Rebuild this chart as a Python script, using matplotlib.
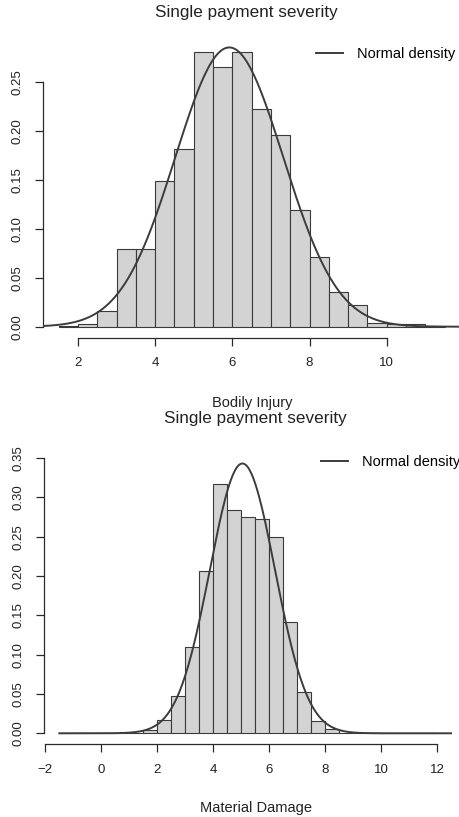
import numpy as np
import matplotlib
matplotlib.use('Agg')
import matplotlib.pyplot as plt

plt.rcParams['font.family'] = ['Liberation Sans', 'DejaVu Sans']

# Bodily injury: density histogram, bins of width 0.5 starting at 1.5
bi_start = 1.5
bi_width = 0.5
bi_dens = [0.001, 0.0024, 0.0163, 0.079, 0.079, 0.1487, 0.181, 0.280, 0.265, 0.280,
           0.2218, 0.196, 0.1188, 0.0708, 0.0357, 0.0221, 0.0038, 0.0024, 0.0024, 0.001]
bi_mean, bi_sd = 5.92, 1.40

# Material damage: bins of width 0.5 from -1.5 to 12
md_start = -1.5
md_width = 0.5
md_dens = [0, 0, 0, 0, 0.0002, 0.0008, 0.0046, 0.0165, 0.0478, 0.1093, 0.2063,
           0.3165, 0.2843, 0.2746, 0.2728, 0.2499, 0.1411, 0.0525, 0.0153, 0.0051,
           0.001, 0.0005, 0.0002, 0, 0, 0, 0]
md_mean, md_sd = 5.04, 1.163

W, H = 459, 817
fig = plt.figure(figsize=(W / 100, H / 100), dpi=100)

bar_fill = '#d3d3d3'
bar_edge = '#3a3a3a'
line_col = '#3c3c3c'
axis_col = '#2a2a2a'


def dnorm(x, m, s):
    return np.exp(-0.5 * ((x - m) / s) ** 2) / (s * np.sqrt(2 * np.pi))


def r_style(ax, xb, yb, yticks):
    for s in ['top', 'right']:
        ax.spines[s].set_visible(False)
    ax.spines['bottom'].set_bounds(*xb)
    ax.spines['left'].set_bounds(*yb)
    for s in ['bottom', 'left']:
        ax.spines[s].set_color(axis_col)
        ax.spines[s].set_linewidth(0.9)
    ax.set_yticks(yticks)
    ax.set_yticklabels(['%.2f' % v for v in yticks])
    ax.tick_params(axis='both', length=6, width=0.9, color=axis_col,
                   labelsize=9.5, labelcolor='#222222', pad=8)
    for lab in ax.get_yticklabels():
        lab.set_rotation(90)
        lab.set_va('center')


def panel(rect, start, width, dens, mean, sd, xlim, ylim, curve_from, xb, yb, yticks, xticks):
    ax = fig.add_axes(rect)
    edges = start + width * np.arange(len(dens))
    ax.bar(edges, dens, width=width, align='edge', color=bar_fill,
           edgecolor=bar_edge, linewidth=0.8, zorder=2)
    xs = np.linspace(curve_from, xlim[1], 400)
    ax.plot(xs, dnorm(xs, mean, sd), color=line_col, lw=1.4, zorder=3,
            label='Normal density')
    ax.set_xlim(*xlim)
    ax.set_ylim(*ylim)
    ax.set_xticks(xticks)
    r_style(ax, xb, yb, yticks)
    return ax


ax1 = panel([43.3 / W, 1 - 337.7 / H, (460 - 43.3) / W, (337.7 - 41.3) / H],
            bi_start, bi_width, bi_dens, bi_mean, bi_sd,
            (1.1, 11.9), (-0.0112, 0.2912), 1.1, (2, 10), (0, 0.25),
            [0, 0.05, 0.10, 0.15, 0.20, 0.25], [2, 4, 6, 8, 10])
ax1.legend(loc='center left', bbox_to_anchor=(316 / W, 1 - 54 / H),
           bbox_transform=fig.transFigure, frameon=False, fontsize=10.5,
           borderpad=0, borderaxespad=0, handlelength=1.85, handletextpad=0.95)

ax2 = panel([44.2 / W, 1 - 744.3 / H, (452.4 - 44.2) / W, (744.3 - 447) / H],
            md_start, md_width, md_dens, md_mean, md_sd,
            (-2.04, 12.54), (-0.014, 0.364), -1.5, (-2, 12), (0, 0.35),
            [0, 0.05, 0.10, 0.15, 0.20, 0.25, 0.30, 0.35],
            [-2, 0, 2, 4, 6, 8, 10, 12])
ax2.legend(loc='center left', bbox_to_anchor=(321 / W, 1 - 462 / H),
           bbox_transform=fig.transFigure, frameon=False, fontsize=10.5,
           borderpad=0, borderaxespad=0, handlelength=1.85, handletextpad=0.95)

fig.text(246 / W, 1 - 13 / H, 'Single payment severity', ha='center', va='center',
         fontsize=12.3, color='#222222')
fig.text(252 / W, 1 - 403 / H, 'Bodily Injury', ha='center', va='center',
         fontsize=10.5, color='#222222')
fig.text(255 / W, 1 - 418.5 / H, 'Single payment severity', ha='center', va='center',
         fontsize=12.3, color='#222222')
fig.text(256 / W, 1 - 808 / H, 'Material Damage', ha='center', va='center',
         fontsize=10.5, color='#222222')

fig.savefig('out.png', dpi=100)
